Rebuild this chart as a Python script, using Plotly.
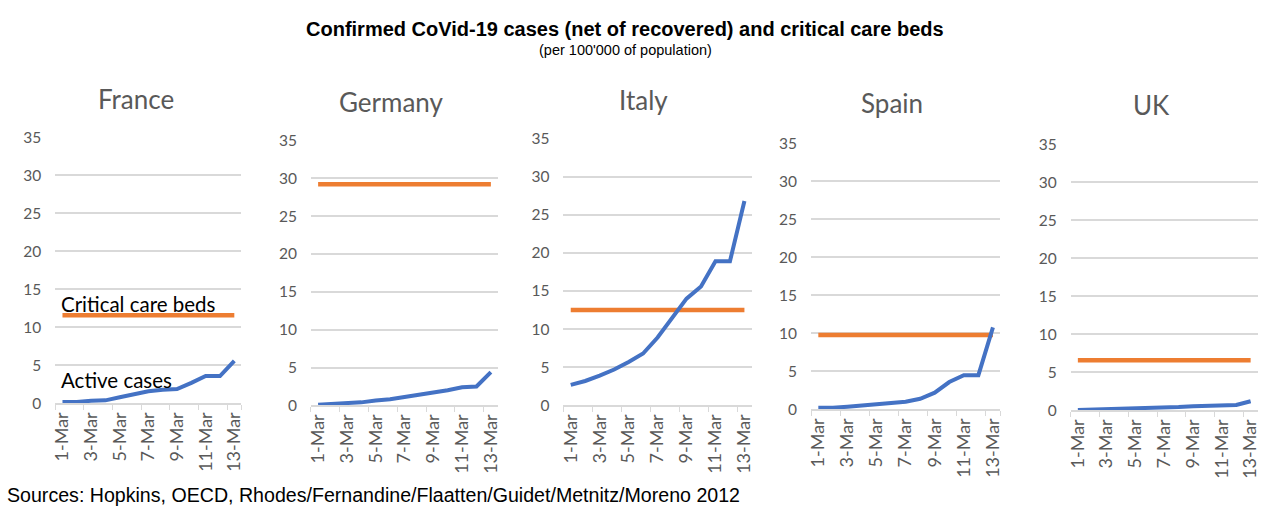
import plotly.graph_objects as go

W, H = 1288, 511

days = ['1-Mar', '2-Mar', '3-Mar', '4-Mar', '5-Mar', '6-Mar', '7-Mar',
        '8-Mar', '9-Mar', '10-Mar', '11-Mar', '12-Mar', '13-Mar']
countries = ['France', 'Germany', 'Italy', 'Spain', 'UK']

# active cases per 100'000 (net of recovered)
france = [0.2, 0.2, 0.35, 0.4, 0.8, 1.2, 1.6, 1.8, 1.9, 2.7, 3.6, 3.6, 5.6]
germany = [0.1, 0.2, 0.3, 0.4, 0.65, 0.8, 1.1, 1.4, 1.6, 2.0, 2.4, 2.5, 4.4]
italy = [2.7, 3.2, 3.9, 4.7, 5.7, 6.8, 8.9, 11.5, 14.0, 15.6, 18.9, 18.9, 26.8]
spain = [0.2, 0.2, 0.35, 0.5, 0.65, 0.85, 1.0, 1.4, 2.2, 3.6, 4.5, 4.5, 10.8]
uk = [0.05, 0.1, 0.15, 0.2, 0.2, 0.3, 0.3, 0.45, 0.55, 0.6, 0.7, 0.7, 1.2]

# critical care beds per 100'000
beds = [11.6, 29.2, 12.5, 9.8, 6.6]

active = [france, germany, italy, spain, uk]

# pixel boxes of each panel in the picture (x0, x1, ytop, ybottom) and title centres
boxes = [(58, 243, 136, 403), (312, 498, 139, 405), (563, 750, 137, 405),
         (809, 997, 142, 409), (1067, 1253, 143, 410)]
titles_xy = [(138, 97), (392, 100), (643, 98), (889, 101), (1147, 103)]

BLUE = '#4472C4'
ORANGE = '#ED7D31'
GREY = '#595959'
GRID = '#D9D9D9'
SANS = 'Lato, Open Sans, sans-serif'
ARIAL = 'Liberation Sans, Arial, sans-serif'


# the snapshot shows the page inset by 8px on each side, so map picture
# pixels back to paper fractions through that inset
def px(x):
    return (x - 8) / (W - 16)


def py(y):
    return 1 - (y - 8) / (H - 16)


fig = go.Figure()
annotations = []

for i, name in enumerate(countries):
    n = '' if i == 0 else str(i + 1)
    x0, x1, yt, yb = boxes[i]
    fig.add_trace(go.Scatter(x=[days[0], days[-1]], y=[beds[i], beds[i]],
                             mode='lines', line=dict(color=ORANGE, width=4.5),
                             xaxis='x' + n, yaxis='y' + n, showlegend=False,
                             hoverinfo='skip'))
    fig.add_trace(go.Scatter(x=days, y=active[i], mode='lines',
                             line=dict(color=BLUE, width=4),
                             xaxis='x' + n, yaxis='y' + n, showlegend=False))
    fig.layout['xaxis' + n] = dict(
        domain=[px(x0), px(x1)], anchor='y' + n, type='category',
        categoryorder='array', categoryarray=days, range=[-0.5, 12.5],
        tickvals=days[::2], tickson='boundaries', ticks='outside', ticklen=5,
        tickcolor=GRID, showline=True, linecolor=GRID, linewidth=1.5,
        showgrid=False, tickangle=-90, fixedrange=True,
        tickfont=dict(family=SANS, size=18, color=GREY))
    fig.layout['yaxis' + n] = dict(
        domain=[py(yb), py(yt)], anchor='x' + n, range=[0, 35],
        dtick=5, showgrid=True, gridcolor=GRID, gridwidth=1.5, zeroline=False,
        ticklabelstandoff=13, fixedrange=True,
        tickfont=dict(family=SANS, size=15.5, color=GREY))
    tx, ty = titles_xy[i]
    annotations.append(dict(text=name, x=px(tx), y=py(ty), xanchor='center',
                            yanchor='middle',
                            font=dict(family=SANS, size=26, color=GREY)))

annotations += [
    dict(text='Critical care beds', x=px(62), y=py(303), xanchor='left',
         yanchor='middle', font=dict(family=SANS, size=20.5, color='black')),
    dict(text='Active cases', x=px(62), y=py(379), xanchor='left',
         yanchor='middle', font=dict(family=SANS, size=20.5, color='black')),
    dict(text='<b>Confirmed CoVid-19 cases (net of recovered) and critical care beds</b>',
         x=px(624), y=py(27), xanchor='center', yanchor='middle',
         font=dict(family=ARIAL, size=20, color='black')),
    dict(text="(per 100'000 of population)", x=px(625), y=py(48),
         xanchor='center', yanchor='middle',
         font=dict(family=ARIAL, size=14.5, color='black')),
    dict(text='Sources: Hopkins, OECD, Rhodes/Fernandine/Flaatten/Guidet/Metnitz/Moreno 2012',
         x=0, y=py(495), xanchor='left', yanchor='middle',
         font=dict(family=ARIAL, size=19.6, color='black')),
]
for a in annotations:
    a['xref'] = 'paper'
    a['yref'] = 'paper'
    a['showarrow'] = False

fig.update_layout(width=W, height=H, margin=dict(l=0, r=0, t=0, b=0),
                  paper_bgcolor='white', plot_bgcolor='white',
                  annotations=annotations)

# drop the page's default body margin so the figure sits at the window corner
fig.write_html('out.html', config={'displayModeBar': False},
               post_script="document.body.style.margin='0';"
               "document.body.style.overflow='hidden';")
